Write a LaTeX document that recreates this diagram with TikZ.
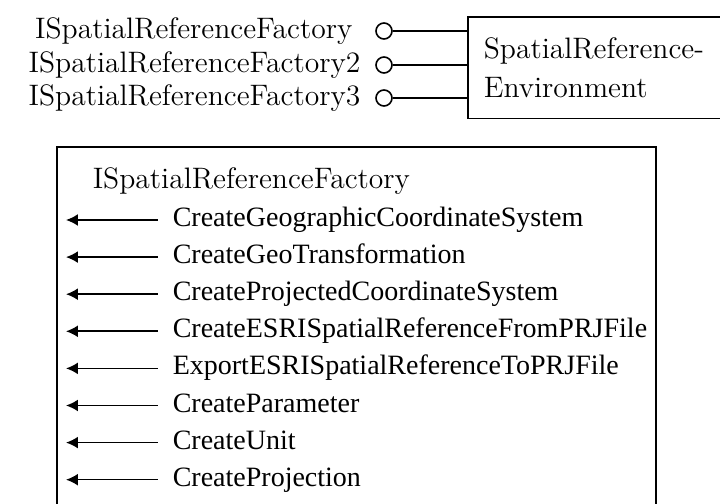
\documentclass[tikz,border=0pt]{standalone}
\usepackage{fontspec}
\newfontfamily\timesfont{Liberation Serif}
\usetikzlibrary{arrows.meta,positioning}
\tikzset{%
	iface/.style    = {draw, circle, fill=white, minimum size=8pt, inner sep=0pt}, % lollipop
	classbox/.style = {draw, rectangle, anchor=north west, inner sep=0pt},
	head/.style     = {font=\fontsize{14.8}{19.5}\selectfont, inner sep=0pt},
	method/.style   = {font=\timesfont\fontsize{14}{16}\selectfont, anchor=west, inner sep=0pt, text height=9.6pt, text depth=3pt},
	arrow/.style    = {thick, -{Latex[length=6pt,width=6pt]}},
}

\begin{document}
\begin{tikzpicture}[x=0.5pt,y=0.5pt,thick]
	\useasboundingbox (0,0) rectangle (720,504);
	\clip (0,0) rectangle (720,504);
	\coordinate (edge) at (724,0);

	% environment class with its interfaces (cut off at the right)
	\node [head, anchor=north west, minimum height=50pt, inner xsep=7.5pt] (env) at (468,487) {\parbox[c]{145pt}{SpatialReference-\\Environment}};
	\draw (env.north west -| edge) -- (env.north west) -- (env.south west) -- (env.south west -| edge);
	\node [iface] (c1) at (384,473) {};
	\node [iface] (c2) at (384,439) {};
	\node [iface] (c3) at (384,406) {};
	\node [head, left=11pt of c1] (i1) {ISpatialReferenceFactory};
	\node [head, left=7pt of c2] (i2) {ISpatialReferenceFactory2};
	\node [head, left=7pt of c3] (i3) {ISpatialReferenceFactory3};
	\foreach \i in {1,2,3}
		\draw (c\i) -- (c\i -| env.west);

	% interface members
	\node [classbox, minimum width=299.5pt, minimum height=200pt] (fac) at (56,358) {};
	\node [head, anchor=base west] (title) at (92,315) {ISpatialReferenceFactory};
	\foreach \meth [count=\i] in {CreateGeographicCoordinateSystem, CreateGeoTransformation,
		CreateProjectedCoordinateSystem, CreateESRISpatialReferenceFromPRJFile,
		ExportESRISpatialReferenceToPRJFile, CreateParameter, CreateUnit, CreateProjection} {
		\node [method] (m\i) at (172,{284-37.1*(\i-1)}) {\meth};
		\draw [arrow] ([xshift=-7pt]m\i.west) -- ([xshift=5pt]m\i.west -| fac.west);
	}
\end{tikzpicture}
\end{document}
